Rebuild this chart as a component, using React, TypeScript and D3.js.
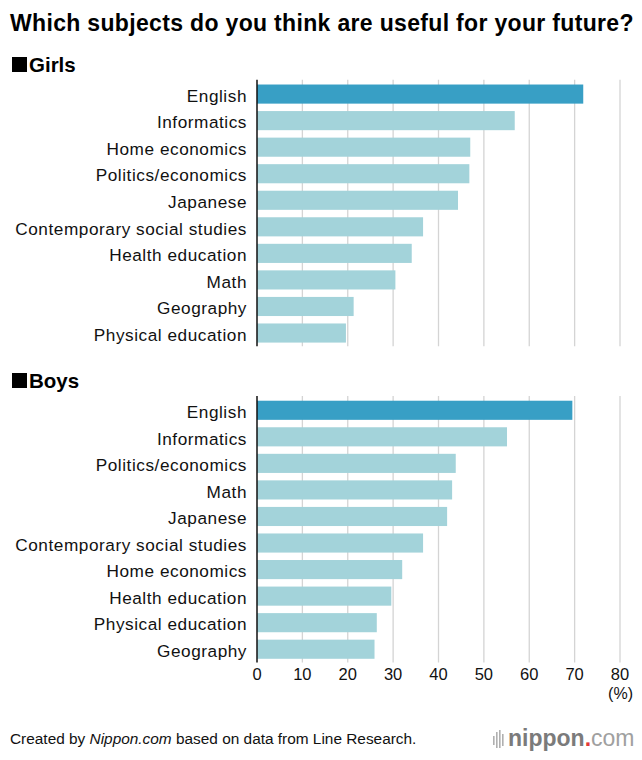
import React from "react";
import * as d3 from "d3";

const girlsSubjects = ["English","Informatics","Home economics","Politics/economics","Japanese","Contemporary social studies","Health education","Math","Geography","Physical education"];
const girlsValues = [71.9,56.8,47.0,46.8,44.3,36.6,34.1,30.5,21.3,19.6];
const boysSubjects = ["English","Informatics","Politics/economics","Math","Japanese","Contemporary social studies","Home economics","Health education","Physical education","Geography"];
const boysValues = [69.5,55.1,43.8,43.0,41.9,36.6,32.0,29.6,26.4,25.9];
const ticks = [0,10,20,30,40,50,60,70,80];

const FONT = "'Liberation Sans', Arial, Helvetica, sans-serif";
const W = 642, H = 760;
const x = d3.scaleLinear().domain([0, 80]).range([257, 620]);
const STEP = 26.55;

function Panel({ subjects, values, y0 }: { subjects: string[]; values: number[]; y0: number }) {
  const y = d3.scaleBand<string>().domain(subjects).range([y0, y0 + STEP * 10]).paddingInner(0.28).paddingOuter(0.14);
  const top = y0 - 1, bottom = y0 + STEP * 10;
  return (
    <g>
      {ticks.slice(1).map(t => (
        <line key={t} x1={x(t)} x2={x(t)} y1={top} y2={bottom} stroke="#d4d4d4" strokeWidth={1.3} />
      ))}
      {subjects.map((s, i) => (
        <g key={s}>
          <rect x={x(0)} y={y(s)} width={x(values[i]) - x(0)} height={y.bandwidth()} fill={i === 0 ? "#389fc5" : "#a3d3da"} />
          <text x={247} y={(y(s) as number) + y.bandwidth() / 2 + 1.5} dy="0.36em" textAnchor="end" fontSize={17.2} letterSpacing={0.55} fill="#111" fontFamily={FONT}>{s}</text>
        </g>
      ))}
      <line x1={x(0)} x2={x(0)} y1={top} y2={bottom} stroke="#111" strokeWidth={1.5} />
    </g>
  );
}

export default function App() {
  return (
    <svg width={W} height={H} style={{ position: "absolute", left: 0, top: 0, background: "#fff" }} fontFamily={FONT}>
      <rect width={W} height={H} fill="#fff" />
      <text x={10} y={31} fontSize={23} letterSpacing={0.33} fontWeight="bold" fill="#000">Which subjects do you think are useful for your future?</text>
      <rect x={12} y={57} width={15} height={15} fill="#000" />
      <text x={29} y={72} fontSize={20.5} fontWeight="bold" fill="#000">Girls</text>
      <rect x={12} y={373} width={15} height={15} fill="#000" />
      <text x={29} y={388} fontSize={20.5} fontWeight="bold" fill="#000">Boys</text>
      <Panel subjects={girlsSubjects} values={girlsValues} y0={80.8} />
      <Panel subjects={boysSubjects} values={boysValues} y0={397} />
      {ticks.map(t => (
        <text key={t} x={x(t)} y={674} dy="0.36em" textAnchor="middle" fontSize={16.5} fill="#111">{t}</text>
      ))}
      <text x={633} y={693} dy="0.36em" textAnchor="end" fontSize={16} fill="#111">(%)</text>
      <text x={10} y={744} fontSize={15.4} fill="#111">Created by <tspan fontStyle="italic">Nippon.com</tspan> based on data from Line Research.</text>
      <g fill="#b0b0b0">
        {[0, 3, 6, 9].map((dx, i) => (
          <rect key={i} x={493 + dx} y={[736, 732, 730, 734][i]} width={1.6} height={[9, 16, 18, 12][i]} />
        ))}
      </g>
      <text x={508} y={746} fontSize={23} fill="#7b7b7b">
        <tspan fontWeight="bold">nippon</tspan><tspan fill="#e23a3a" fontWeight="bold">.</tspan><tspan fill="#a0a0a0">com</tspan>
      </text>
    </svg>
  );
}
